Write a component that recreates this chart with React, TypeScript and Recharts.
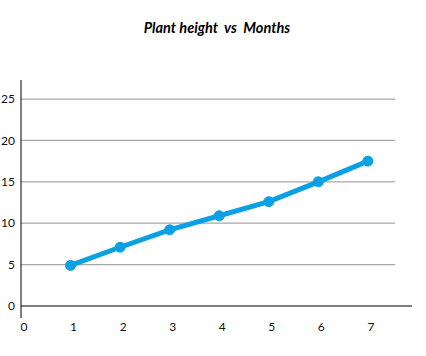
import { Line, LineChart, ReferenceLine, XAxis, YAxis } from "recharts";

const months = [1, 2, 3, 4, 5, 6, 7];
const heights = [4.9, 7.1, 9.2, 10.9, 12.6, 15.0, 17.5];
const xTicks = [0, 1, 2, 3, 4, 5, 6, 7];
const yTicks = [0, 5, 10, 15, 20, 25];

const colors = {
  line: "#0aa0e4",
  grid: "#a8a8a8",
  axis: "#000000",
  text: "#111111"
};

const data = months.map((month, i) => ({ month, height: heights[i] }));

export default function App() {
  return (
    <div style={{ position: "absolute", left: 0, top: 0, width: 426, height: 356, background: "#fff", overflow: "visible" }}>
      <div
        style={{
          position: "absolute",
          top: 19,
          left: 4,
          width: 426,
          textAlign: "center",
          fontFamily: "Lato, sans-serif",
          fontWeight: "bold",
          fontStyle: "italic",
          fontSize: 14.5,
          color: "#000",
          whiteSpace: "pre"
        }}
      >
        {"Plant height  vs  Months"}
      </div>
      <LineChart
        width={426}
        height={356}
        data={data}
        style={{ overflow: "visible" }}
        margin={{ top: 80, right: 14, bottom: 20, left: 0 }}
      >
        {yTicks
          .filter((v) => v > 0)
          .map((v) => (
            <ReferenceLine
              key={v}
              segment={[
                { x: 0, y: v },
                { x: 7.55, y: v }
              ]}
              stroke={colors.grid}
              strokeWidth={1.2}
            />
          ))}
        <ReferenceLine
          segment={[
            { x: 0, y: 0 },
            { x: 0, y: -1.45 }
          ]}
          stroke={colors.axis}
          ifOverflow="visible"
        />
        <XAxis
          dataKey="month"
          type="number"
          domain={[0, 7.89]}
          ticks={xTicks}
          allowDataOverflow
          height={30}
          tickLine={false}
          tickSize={0}
          tickMargin={16}
          axisLine={{ stroke: colors.axis }}
          tick={{ fontSize: 12, fill: colors.text, fontFamily: "Lato, sans-serif", dx: 3 }}
        />
        <YAxis
          type="number"
          domain={[0, 27.3]}
          ticks={yTicks}
          allowDataOverflow
          width={21}
          tickLine={false}
          tickSize={0}
          tickMargin={6}
          axisLine={{ stroke: colors.axis }}
          tick={{ fontSize: 12, fill: colors.text, fontFamily: "Lato, sans-serif" }}
        />
        <Line
          type="linear"
          dataKey="height"
          stroke={colors.line}
          strokeWidth={5}
          dot={{ r: 5, fill: colors.line, stroke: colors.line, strokeWidth: 1 }}
          isAnimationActive={false}
        />
      </LineChart>
    </div>
  );
}
